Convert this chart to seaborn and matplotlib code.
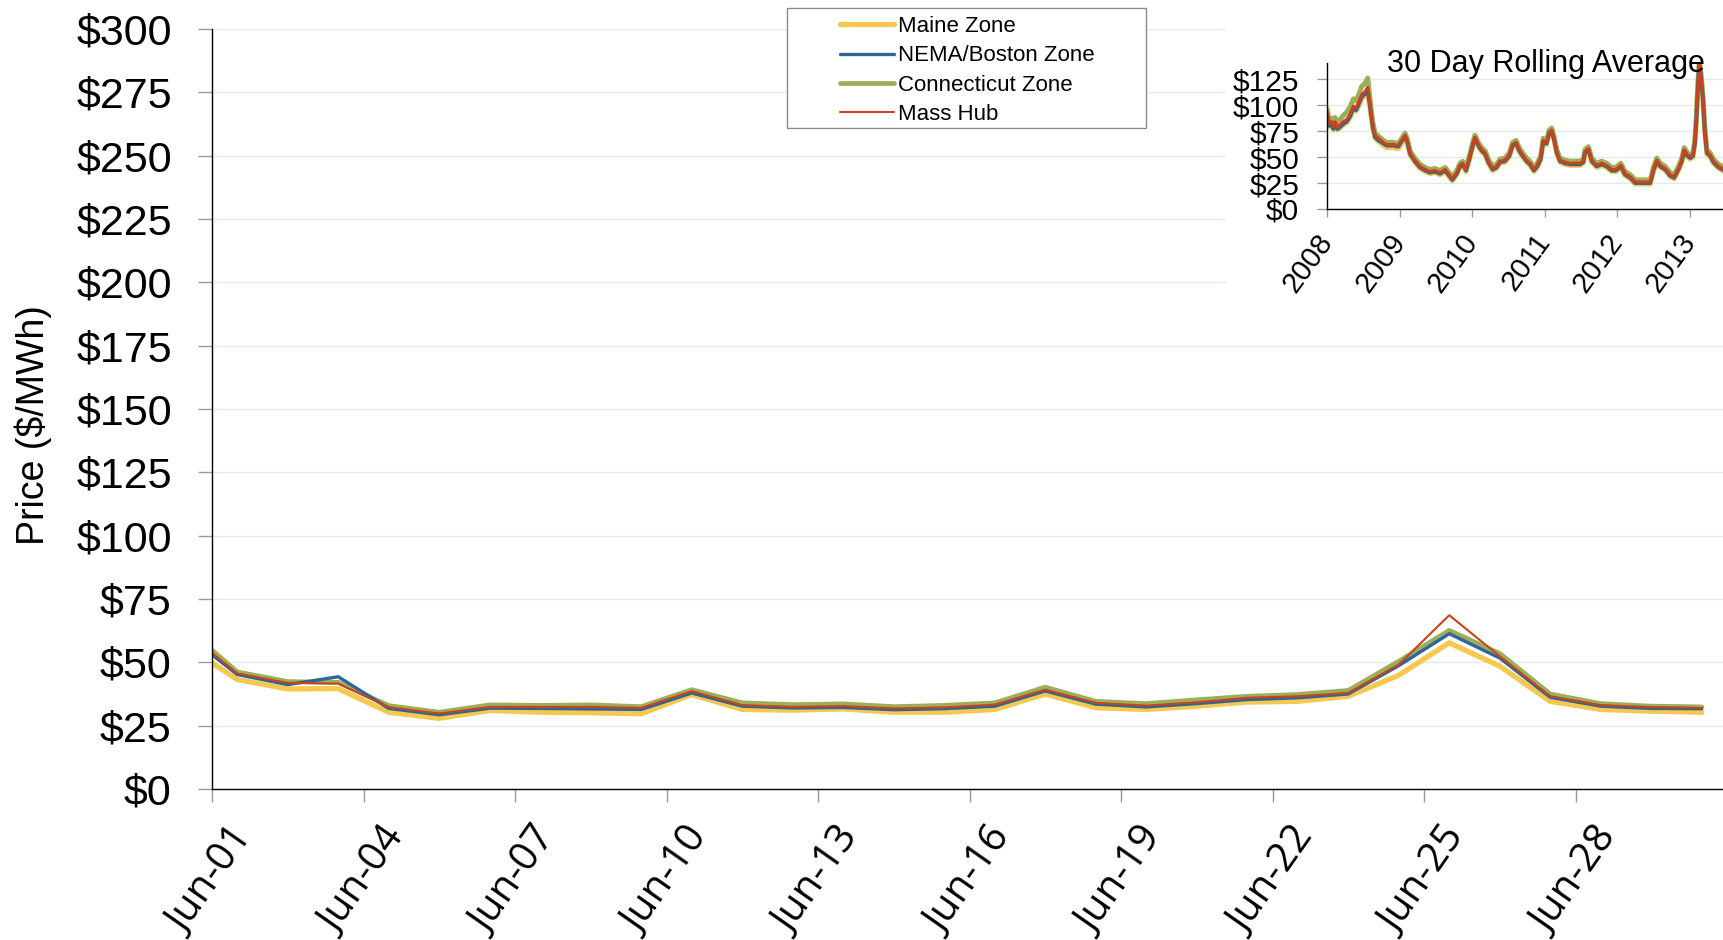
import matplotlib
matplotlib.use("Agg")
import matplotlib.dates as mdates
import matplotlib.pyplot as plt
import pandas as pd
import seaborn as sns
from matplotlib.patches import Rectangle
from matplotlib.transforms import ScaledTranslation

# daily prices, June (first point at midnight, then daily at noon)
DAYS = [
    "2013-06-01 00:00",
    "2013-06-01 12:00", "2013-06-02 12:00", "2013-06-03 12:00", "2013-06-04 12:00", "2013-06-05 12:00",
    "2013-06-06 12:00", "2013-06-07 12:00", "2013-06-08 12:00", "2013-06-09 12:00", "2013-06-10 12:00",
    "2013-06-11 12:00", "2013-06-12 12:00", "2013-06-13 12:00", "2013-06-14 12:00", "2013-06-15 12:00",
    "2013-06-16 12:00", "2013-06-17 12:00", "2013-06-18 12:00", "2013-06-19 12:00", "2013-06-20 12:00",
    "2013-06-21 12:00", "2013-06-22 12:00", "2013-06-23 12:00", "2013-06-24 12:00", "2013-06-25 12:00",
    "2013-06-26 12:00", "2013-06-27 12:00", "2013-06-28 12:00", "2013-06-29 12:00", "2013-06-30 12:00",
]
MAINE = [49.8, 43.2, 39.5, 39.6, 30.3, 27.9, 31.0, 30.3, 30.1, 29.7, 37.3, 31.4, 31.1, 31.6, 30.3, 30.3,
         31.4, 37.5, 32.1, 31.4, 32.7, 34.3, 34.6, 36.6, 44.9, 57.7, 48.5, 34.6, 31.4, 30.7, 30.3]
NEMA = [53.0, 45.2, 41.2, 44.3, 31.8, 29.3, 31.9, 31.8, 31.6, 31.4, 37.9, 32.7, 32.0, 32.2, 31.3, 31.7,
        32.7, 38.7, 33.5, 32.4, 33.7, 35.3, 36.0, 37.5, 48.7, 61.3, 51.7, 36.2, 32.7, 31.8, 31.7]
CONN = [54.8, 46.2, 42.4, 42.1, 32.9, 30.3, 33.2, 33.0, 33.2, 32.5, 39.2, 34.0, 33.3, 33.6, 32.5, 33.0,
        34.0, 40.2, 34.6, 33.7, 35.2, 36.6, 37.3, 38.9, 50.4, 62.6, 53.5, 37.5, 33.7, 32.7, 32.4]
HUB = [53.7, 45.6, 41.9, 41.6, 32.3, 29.8, 32.4, 32.4, 32.4, 32.0, 38.6, 33.1, 32.4, 32.7, 31.8, 32.2,
       33.3, 39.2, 34.0, 32.9, 34.2, 36.0, 36.6, 37.9, 49.1, 68.6, 52.4, 36.6, 33.1, 32.3, 32.0]

X_TICKS = ["2013-06-01", "2013-06-04", "2013-06-07", "2013-06-10", "2013-06-13",
           "2013-06-16", "2013-06-19", "2013-06-22", "2013-06-25", "2013-06-28"]
Y_TICKS = [0, 25, 50, 75, 100, 125, 150, 175, 200, 225, 250, 275, 300]

# 30 day rolling average (inset)
ROLL_DATES = [
    "2008-01-01", "2008-01-13", "2008-01-24", "2008-02-02", "2008-02-10", "2008-02-22", "2008-03-07", "2008-03-23", "2008-04-09", "2008-04-26",
    "2008-05-13", "2008-05-26", "2008-06-07", "2008-06-24", "2008-07-11", "2008-07-24", "2008-08-05", "2008-08-18", "2008-08-30", "2008-09-16",
    "2008-10-11", "2008-10-28", "2008-11-13", "2008-11-30", "2008-12-25", "2009-01-11", "2009-01-28", "2009-02-09", "2009-02-22", "2009-03-18",
    "2009-04-13", "2009-05-09", "2009-06-03", "2009-06-28", "2009-07-23", "2009-08-18", "2009-09-03", "2009-09-23", "2009-10-16", "2009-11-01",
    "2009-11-14", "2009-12-01", "2009-12-18", "2010-01-04", "2010-01-15", "2010-02-01", "2010-02-18", "2010-03-07", "2010-03-23", "2010-04-14",
    "2010-05-04", "2010-05-21", "2010-06-15", "2010-07-07", "2010-07-24", "2010-08-10", "2010-08-26", "2010-09-12", "2010-10-02", "2010-10-19",
    "2010-11-08", "2010-11-25", "2010-12-12", "2010-12-25", "2011-01-11", "2011-01-24", "2011-02-05", "2011-02-17", "2011-03-03", "2011-03-19",
    "2011-04-13", "2011-05-09", "2011-06-03", "2011-06-28", "2011-07-15", "2011-07-23", "2011-08-09", "2011-08-26", "2011-09-20", "2011-10-15",
    "2011-11-09", "2011-12-04", "2011-12-26", "2012-01-19", "2012-02-10", "2012-03-07", "2012-04-01", "2012-04-26", "2012-05-22", "2012-06-16",
    "2012-07-02", "2012-07-19", "2012-08-05", "2012-08-30", "2012-09-24", "2012-10-14", "2012-11-05", "2012-11-22", "2012-12-04", "2012-12-20",
    "2013-01-03", "2013-01-17", "2013-01-27", "2013-02-03", "2013-02-11", "2013-02-18", "2013-02-26", "2013-03-08", "2013-03-18", "2013-03-28",
    "2013-04-13", "2013-04-30", "2013-05-26", "2013-06-23",
]
ROLL_MAINE = [
    90, 79, 81, 76, 81, 76, 78, 81, 83, 88,
    96, 94, 98, 106, 109, 112, 96, 78, 68, 65,
    61, 59, 59, 59, 58, 63, 68, 62, 52, 45,
    39, 36, 34, 35, 33, 36, 32, 27, 33, 40,
    42, 36, 47, 60, 67, 60, 55, 52, 44, 37,
    39, 44, 45, 50, 60, 62, 55, 50, 45, 42,
    36, 40, 47, 64, 62, 72, 74, 66, 53, 45,
    43, 42, 42, 42, 44, 53, 56, 45, 40, 42,
    40, 36, 36, 40, 32, 29, 24, 24, 24, 24,
    36, 45, 40, 37, 31, 29, 37, 45, 55, 50,
    48, 50, 63, 85, 117, 137, 126, 104, 72, 53,
    50, 44, 39, 36,
]
ROLL_NEMA = [
    91, 80, 82, 77, 82, 77, 79, 82, 84, 89,
    97, 95, 100, 108, 111, 114, 98, 79, 69, 66,
    63, 61, 61, 61, 60, 65, 70, 64, 53, 46,
    40, 37, 35, 36, 34, 37, 33, 28, 34, 41,
    43, 37, 48, 61, 68, 61, 56, 53, 45, 38,
    40, 45, 46, 51, 61, 63, 56, 51, 46, 43,
    37, 41, 48, 65, 63, 73, 75, 67, 54, 46,
    44, 43, 43, 43, 45, 54, 57, 46, 41, 43,
    41, 37, 37, 41, 33, 30, 25, 25, 25, 25,
    37, 46, 41, 38, 32, 30, 38, 46, 56, 51,
    49, 51, 64, 86, 119, 139, 128, 106, 74, 54,
    51, 45, 40, 37,
]
ROLL_CONN = [
    96, 86, 87, 83, 88, 84, 86, 90, 93, 98,
    106, 104, 109, 118, 121, 126, 105, 84, 73, 70,
    66, 64, 64, 64, 63, 68, 73, 67, 56, 49,
    43, 40, 38, 39, 37, 40, 36, 31, 37, 44,
    46, 40, 51, 64, 71, 64, 59, 56, 48, 41,
    43, 48, 49, 54, 64, 66, 59, 54, 49, 46,
    40, 44, 51, 68, 66, 76, 78, 70, 57, 49,
    47, 46, 46, 46, 48, 57, 60, 49, 44, 46,
    44, 40, 40, 44, 36, 33, 28, 28, 28, 28,
    40, 49, 44, 41, 35, 33, 41, 49, 59, 54,
    52, 54, 67, 89, 122, 142, 131, 109, 77, 57,
    54, 48, 43, 40,
]
ROLL_HUB = [
    93, 82, 84, 79, 84, 79, 81, 84, 86, 91,
    99, 97, 102, 110, 113, 117, 100, 81, 71, 68,
    64, 62, 62, 62, 61, 66, 71, 65, 54, 47,
    41, 38, 36, 37, 35, 38, 34, 29, 35, 42,
    44, 38, 49, 62, 69, 62, 57, 54, 46, 39,
    41, 46, 47, 52, 62, 64, 57, 52, 47, 44,
    38, 42, 49, 66, 64, 74, 76, 68, 55, 47,
    45, 44, 44, 44, 46, 55, 58, 47, 42, 44,
    42, 38, 38, 42, 34, 31, 26, 26, 26, 26,
    38, 47, 42, 39, 33, 31, 39, 47, 57, 52,
    50, 52, 65, 87, 120, 140, 129, 107, 75, 55,
    52, 46, 41, 38,
]
ROLL_Y_TICKS = [0, 25, 50, 75, 100, 125]

# name, colour, main width, inset width (drawing order)
SERIES = [
    ("Maine Zone", "#f5c850", 3.8, 3.6),
    ("Connecticut Zone", "#9bae58", 3.4, 3.6),
    ("NEMA/Boston Zone", "#2d6699", 2.4, 2.8),
    ("Mass Hub", "#c9431c", 1.5, 2.3),
]
LEGEND_ORDER = ["Maine Zone", "NEMA/Boston Zone", "Connecticut Zone", "Mass Hub"]

W, H = 1724, 940
GRID = "#e3eaea"
TICK = "#999999"


def style_axes(ax):
    for side in ("top", "right"):
        ax.spines[side].set_visible(False)
    for side in ("left", "bottom"):
        ax.spines[side].set_color("black")
        ax.spines[side].set_linewidth(1.0)
    ax.yaxis.grid(True, color=GRID, linewidth=1.0)
    ax.xaxis.grid(False)
    ax.set_xlabel("")
    ax.set_ylabel("")


def main() -> None:
    sns.set_style("white")
    plt.rcParams["font.family"] = ["Liberation Sans", "DejaVu Sans"]
    plt.rcParams["text.color"] = "black"

    fig = plt.figure(figsize=(W / 100, H / 100), dpi=100)

    # main chart
    ax = fig.add_axes([212 / W, 151 / H, 1515 / W, 760 / H])
    days = pd.to_datetime(DAYS)
    main_vals = {"Maine Zone": MAINE, "NEMA/Boston Zone": NEMA,
                 "Connecticut Zone": CONN, "Mass Hub": HUB}
    for name, color, lw, _ in SERIES:
        sns.lineplot(x=days, y=main_vals[name], ax=ax, color=color, linewidth=lw, label=name)
    handles, labels = ax.get_legend_handles_labels()
    ax.get_legend().remove()
    style_axes(ax)

    ax.set_ylim(0, 300)
    ax.set_yticks(Y_TICKS)
    ax.set_yticklabels([f"${v}" for v in Y_TICKS])
    ax.set_xlim(pd.Timestamp("2013-06-01"), pd.Timestamp("2013-07-01"))
    ax.set_xticks(pd.to_datetime(X_TICKS).to_pydatetime())
    ax.xaxis.set_major_formatter(mdates.DateFormatter("%b-%d"))
    ax.tick_params(axis="y", left=True, length=10, width=1, color=TICK, pad=19,
                   labelsize=31, labelcolor="black")
    ax.tick_params(axis="x", bottom=True, length=9, width=1, color=TICK, pad=22,
                   labelsize=29, labelcolor="black")
    shift = ScaledTranslation(0.34, 0, fig.dpi_scale_trans)
    for lab in ax.get_xticklabels():
        lab.set(rotation=55, ha="right", va="center", rotation_mode="anchor", fontfamily="Open Sans")
        lab.set_transform(lab.get_transform() + shift)

    fig.text(33 / W, 1 - 425 / H, "Price ($/MWh)", rotation=90, ha="center", va="center", fontsize=27)

    # legend with its own box
    fig.add_artist(Rectangle((787 / W, 1 - 128 / H), 359 / W, 120 / H, transform=fig.transFigure,
                             facecolor="white", edgecolor="#8a8a8a", linewidth=1.0, zorder=3))
    by_label = dict(zip(labels, handles))
    leg = fig.legend([by_label[n] for n in LEGEND_ORDER], LEGEND_ORDER, loc="upper left",
                     bbox_to_anchor=(829 / W, 1 - 5 / H), frameon=False, fontsize=16,
                     borderpad=0, handlelength=2.43, handletextpad=0.18, labelspacing=0.37)
    leg.set_zorder(4)

    # inset: 30 day rolling average
    fig.add_artist(Rectangle((1226 / W, 1 - 300 / H), 1 - 1226 / W, 300 / H, transform=fig.transFigure,
                             facecolor="white", edgecolor="none", zorder=1))
    ins = fig.add_axes([1327 / W, 1 - 209 / H, 398.75 / W, 146 / H])
    ins.set_zorder(2)
    ins.patch.set_alpha(0)
    rdates = pd.to_datetime(ROLL_DATES)
    roll_vals = {"Maine Zone": ROLL_MAINE, "NEMA/Boston Zone": ROLL_NEMA,
                 "Connecticut Zone": ROLL_CONN, "Mass Hub": ROLL_HUB}
    for name, color, _, lw in SERIES:
        sns.lineplot(x=rdates, y=roll_vals[name], ax=ins, color=color, linewidth=lw, legend=False)
    style_axes(ins)
    ins.set_ylim(0, 140.5)
    ins.set_yticks(ROLL_Y_TICKS)
    ins.set_yticklabels([f"${v}" for v in ROLL_Y_TICKS])
    ins.set_xlim(pd.Timestamp("2008-01-01"), pd.Timestamp("2013-07-01"))
    ins.xaxis.set_major_locator(mdates.YearLocator())
    ins.xaxis.set_major_formatter(mdates.DateFormatter("%Y"))
    ins.tick_params(axis="y", left=True, length=7, width=1, color=TICK, pad=13,
                    labelsize=21.5, labelcolor="black")
    ins.tick_params(axis="x", bottom=True, length=6, width=1, color=TICK, pad=14,
                    labelsize=21, labelcolor="black")
    for lab in ins.get_xticklabels():
        lab.set(rotation=54, ha="right", va="center", rotation_mode="anchor")

    fig.text(1387 / W, 1 - 72 / H, "30 Day Rolling Average", ha="left", va="baseline",
             fontsize=22, zorder=5)

    fig.savefig("out.png", dpi=100)
    plt.close(fig)


if __name__ == "__main__":
    main()
